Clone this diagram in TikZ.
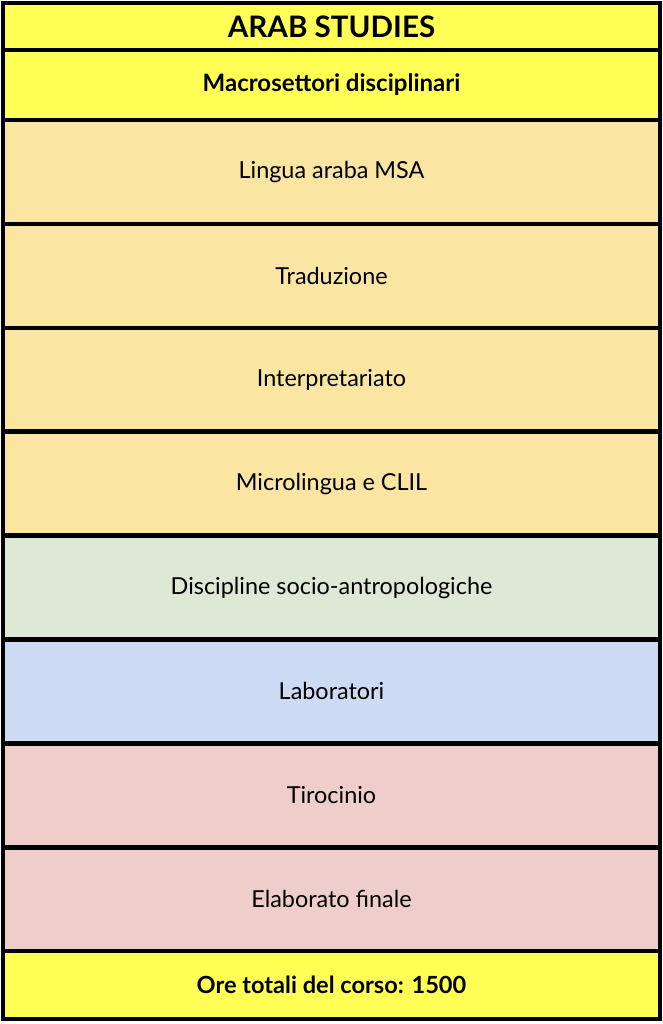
\documentclass[tikz,border=0pt]{standalone}
\usepackage{fontspec}
\setmainfont{Lato}
\usepackage{tikz}
\usetikzlibrary{positioning}

\definecolor{headyellow}{HTML}{FFFF55}
\definecolor{langorange}{HTML}{FAE5A2}
\definecolor{sociogreen}{HTML}{DDE8D5}
\definecolor{labblue}{HTML}{CCDAF4}
\definecolor{finalpink}{HTML}{EECDCB}

\begin{document}
\begin{tikzpicture}[
  x=1pt, y=-1pt,
  font=\fontsize{23.4}{28}\selectfont,
  cell/.style={draw, line width=4.5pt, outer sep=0pt, inner sep=0pt, minimum width=657pt, minimum height=103.9pt, align=center},
  headcell/.style={cell, fill=headyellow, font=\fontsize{23.6}{28}\selectfont\bfseries},
  langcell/.style={cell, fill=langorange},
  sociocell/.style={cell, fill=sociogreen},
  labcell/.style={cell, fill=labblue},
  finalcell/.style={cell, fill=finalpink}
]
\useasboundingbox (0,0) rectangle (663,1024);
\node[headcell, minimum height=47pt, font=\fontsize{29.6}{34}\selectfont\bfseries] (title) at (331.5,26.5) {ARAB STUDIES};
\node[headcell, minimum height=70pt, font=\fontsize{24}{28}\selectfont\bfseries, below=0pt of title] (macro) {Macrosettori disciplinari};
\node[langcell, below=0pt of macro] (msa) {Lingua araba MSA};
\node[langcell, below=0pt of msa] (trad) {Traduzione};
\node[langcell, below=0pt of trad] (interp) {Interpretariato};
\node[langcell, below=0pt of interp] (clil) {Microlingua e CLIL};
\node[sociocell, below=0pt of clil] (socio) {Discipline socio-antropologiche};
\node[labcell, below=0pt of socio] (lab) {Laboratori};
\node[finalcell, below=0pt of lab] (tiro) {Tirocinio};
\node[finalcell, below=0pt of tiro] (elab) {Elaborato finale};
\node[headcell, minimum height=68pt, below=0pt of elab] (ore) {Ore totali del corso: 1500};
\end{tikzpicture}
\end{document}
